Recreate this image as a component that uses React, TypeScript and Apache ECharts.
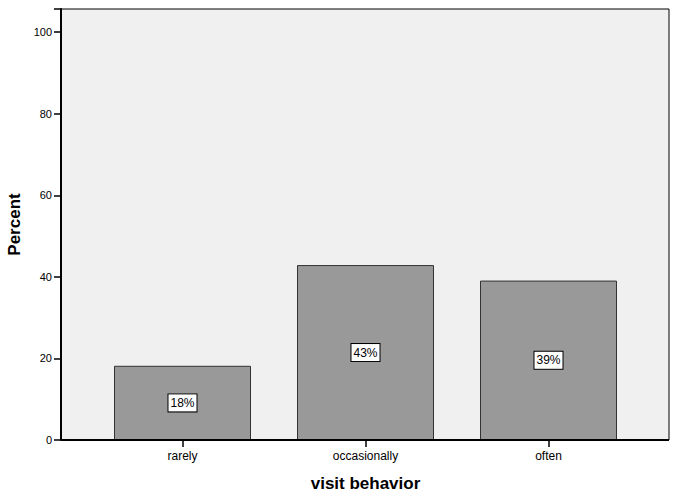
import React, { useEffect, useRef } from "react";
import * as echarts from "echarts";

const categories = ["rarely", "occasionally", "often"];
const percentValues = [18.2, 42.9, 39.1];
const yTicks = [0, 20, 40, 60, 80, 100];

export default function App() {
  const ref = useRef<HTMLDivElement>(null);
  useEffect(() => {
    if (!ref.current) return;
    const chart = echarts.init(ref.current, undefined, { renderer: "svg" });
    const font = "'Liberation Sans', Arial, sans-serif";
    const yMax = 105.7;
    chart.setOption({
      animation: false,
      backgroundColor: "#ffffff",
      textStyle: { fontFamily: font },
      grid: [
        {
          left: 61,
          top: 9,
          width: 608,
          height: 431,
          show: true,
          backgroundColor: "#f0f0f0",
          borderColor: "#000000",
          borderWidth: 1,
          outerBoundsMode: "none",
          containLabel: false,
        },
        { left: 91, top: 9, width: 549, height: 431, outerBoundsMode: "none", containLabel: false },
      ],
      xAxis: [
        { gridIndex: 0, type: "value", min: 0, max: 1, show: false },
        {
          gridIndex: 1,
          type: "category",
          data: categories,
          axisLine: { show: false },
          axisTick: { show: true, alignWithLabel: true, length: 7, lineStyle: { color: "#000", width: 1.5 } },
          axisLabel: { color: "#000", fontSize: 12, margin: 10, fontFamily: font },
          name: "visit behavior",
          nameLocation: "middle",
          nameGap: 35,
          nameTextStyle: { color: "#000", fontSize: 17, fontWeight: "bold", fontFamily: font },
        },
      ],
      yAxis: [
        {
          gridIndex: 0,
          type: "value",
          min: 0,
          max: yMax,
          interval: 20,
          axisLine: { show: true, lineStyle: { color: "#000", width: 2 } },
          axisTick: { show: true, length: 7, lineStyle: { color: "#000", width: 1.5 } },
          axisLabel: {
            color: "#000",
            fontSize: 11,
            margin: 9,
            fontFamily: font,
            formatter: (v: number) => (yTicks.includes(v) ? String(v) : ""),
          },
          splitLine: { show: false },
          name: "Percent",
          nameLocation: "middle",
          nameGap: 33,
          nameTextStyle: { color: "#000", fontSize: 17, fontWeight: "bold", fontFamily: font },
        },
        { gridIndex: 1, type: "value", min: 0, max: yMax, show: false, splitLine: { show: false } },
      ],
      graphic: [
        {
          type: "line",
          shape: { x1: 61, y1: 440, x2: 669, y2: 440 },
          style: { stroke: "#000", lineWidth: 2 },
          z: 10,
        },
      ],
      series: [
        {
          type: "bar",
          xAxisIndex: 1,
          yAxisIndex: 1,
          data: percentValues,
          barWidth: 137,
          itemStyle: { color: "#999999", borderColor: "#333333", borderWidth: 1 },
          label: {
            show: true,
            position: "inside",
            formatter: (p: any) => Math.round(p.value) + "%",
            color: "#000",
            fontSize: 12,
            fontFamily: font,
            backgroundColor: "#ffffff",
            borderColor: "#000000",
            borderWidth: 1,
            padding: [3, 2, 2, 2],
          },
        },
      ],
    });
    return () => chart.dispose();
  }, []);
  return (
    <div
      ref={ref}
      style={{ position: "fixed", left: 0, top: 0, width: 678, height: 495 }}
    />
  );
}
